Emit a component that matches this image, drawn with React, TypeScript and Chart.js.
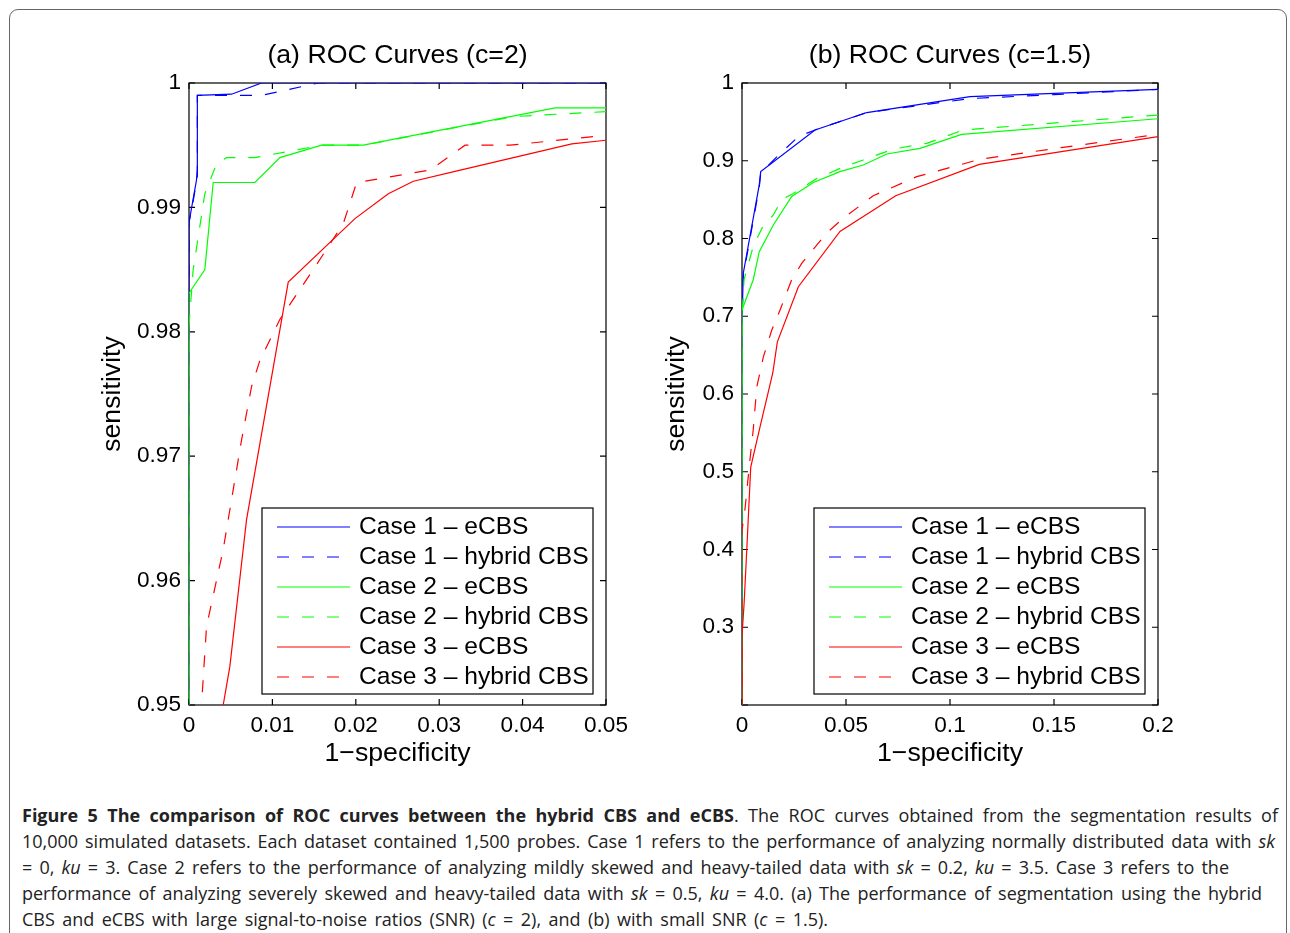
import React, { useEffect, useRef } from 'react';
import { Chart, registerables } from 'chart.js';

Chart.register(...registerables);

type Pt = [number, number];

// ---------- data ----------
const legendLabels = [
  'Case 1 – eCBS',
  'Case 1 – hybrid CBS',
  'Case 2 – eCBS',
  'Case 2 – hybrid CBS',
  'Case 3 – eCBS',
  'Case 3 – hybrid CBS',
];
const seriesColors = ['#0000ff', '#0000ff', '#00ff00', '#00ff00', '#ff0000', '#ff0000'];
const seriesDashed = [false, true, false, true, false, true];

// (a) c = 2
const aCase1eCBS: Pt[] = [[0, 0.9], [0, 0.9888], [0.0009, 0.9922], [0.001, 0.9931], [0.001, 0.999], [0.0051, 0.9991], [0.0087, 1.0], [0.05, 1.0]];
const aCase1Hybrid: Pt[] = [[0, 0.9], [0, 0.9888], [0.0005, 0.9905], [0.001, 0.9925], [0.001, 0.999], [0.0087, 0.999], [0.0155, 1.0], [0.05, 1.0]];
const aCase2eCBS: Pt[] = [[0, 0.9], [0, 0.9831], [0.0019, 0.985], [0.0029, 0.992], [0.0079, 0.992], [0.0109, 0.994], [0.0159, 0.995], [0.0209, 0.995], [0.0439, 0.998], [0.05, 0.998]];
const aCase2Hybrid: Pt[] = [[0, 0.9], [0, 0.9805], [0.0005, 0.985], [0.0019, 0.9911], [0.0033, 0.9935], [0.0045, 0.994], [0.0079, 0.994], [0.0159, 0.995], [0.0209, 0.995], [0.0389, 0.9973], [0.05, 0.9977]];
const aCase3eCBS: Pt[] = [[0.0033, 0.947], [0.0041, 0.95], [0.0049, 0.9531], [0.0069, 0.9649], [0.0119, 0.984], [0.0199, 0.9891], [0.0239, 0.9911], [0.0269, 0.9921], [0.0319, 0.9929], [0.0459, 0.9951], [0.05, 0.9954]];
const aCase3Hybrid: Pt[] = [[0.0012, 0.945], [0.0015, 0.95], [0.0021, 0.9563], [0.0041, 0.9625], [0.0063, 0.9713], [0.0075, 0.9756], [0.0085, 0.9777], [0.0109, 0.981], [0.0149, 0.985], [0.0185, 0.9887], [0.0201, 0.992], [0.0289, 0.993], [0.0331, 0.995], [0.0385, 0.995], [0.05, 0.9958]];

// (b) c = 1.5
const bCase1eCBS: Pt[] = [[0, 0], [0, 0.691], [0.0006, 0.755], [0.0083, 0.869], [0.009, 0.886], [0.0351, 0.9396], [0.06, 0.962], [0.1096, 0.9824], [0.2, 0.9919]];
const bCase1Hybrid: Pt[] = [[0, 0], [0, 0.69], [0.0006, 0.752], [0.0083, 0.866], [0.009, 0.884], [0.0167, 0.905], [0.0271, 0.931], [0.0351, 0.9396], [0.06, 0.962], [0.1096, 0.98], [0.15, 0.985], [0.2, 0.9917]];
const bCase2eCBS: Pt[] = [[0, 0], [0, 0.708], [0.0054, 0.747], [0.0083, 0.783], [0.015, 0.817], [0.0239, 0.854], [0.0343, 0.872], [0.0471, 0.886], [0.0583, 0.8945], [0.0696, 0.9087], [0.0856, 0.916], [0.1056, 0.934], [0.2, 0.954]];
const bCase2Hybrid: Pt[] = [[0, 0], [0, 0.7], [0.001, 0.747], [0.0054, 0.79], [0.0103, 0.817], [0.015, 0.83], [0.0191, 0.85], [0.0247, 0.858], [0.0359, 0.877], [0.0487, 0.892], [0.0583, 0.901], [0.0727, 0.915], [0.0888, 0.9224], [0.1064, 0.9396], [0.2, 0.9588]];
const bCase3eCBS: Pt[] = [[0, 0], [0, 0.29], [0.001, 0.33], [0.0023, 0.4], [0.0042, 0.506], [0.0087, 0.558], [0.0148, 0.627], [0.017, 0.667], [0.0271, 0.738], [0.0471, 0.809], [0.0739, 0.855], [0.1141, 0.8954], [0.2, 0.931]];
const bCase3Hybrid: Pt[] = [[0, 0], [0, 0.425], [0.0014, 0.451], [0.0038, 0.515], [0.0054, 0.554], [0.0071, 0.609], [0.0103, 0.648], [0.0143, 0.682], [0.0183, 0.708], [0.0239, 0.747], [0.0287, 0.768], [0.0407, 0.807], [0.0487, 0.826], [0.0631, 0.855], [0.084, 0.8795], [0.1144, 0.9019], [0.1545, 0.9173], [0.2, 0.934]];

const aTicksX = [0, 0.01, 0.02, 0.03, 0.04, 0.05];
const aTickLabelsX = ['0', '0.01', '0.02', '0.03', '0.04', '0.05'];
const aTicksY = [0.95, 0.96, 0.97, 0.98, 0.99, 1];
const aTickLabelsY = ['0.95', '0.96', '0.97', '0.98', '0.99', '1'];

const bTicksX = [0, 0.05, 0.1, 0.15, 0.2];
const bTickLabelsX = ['0', '0.05', '0.1', '0.15', '0.2'];
const bTicksY = [0.2, 0.3, 0.4, 0.5, 0.6, 0.7, 0.8, 0.9, 1];
const bTickLabelsY = ['', '0.3', '0.4', '0.5', '0.6', '0.7', '0.8', '0.9', '1'];

type Seg = [string, '' | 'b' | 'i'];
const captionLines: Seg[][] = [
  [['Figure 5 The comparison of ROC curves between the hybrid CBS and eCBS', 'b'], ['. The ROC curves obtained from the segmentation results of', '']],
  [['10,000 simulated datasets. Each dataset contained 1,500 probes. Case 1 refers to the performance of analyzing normally distributed data with ', ''], ['sk', 'i']],
  [['= 0, ', ''], ['ku', 'i'], [' = 3. Case 2 refers to the performance of analyzing mildly skewed and heavy-tailed data with ', ''], ['sk', 'i'], [' = 0.2, ', ''], ['ku', 'i'], [' = 3.5. Case 3 refers to the', '']],
  [['performance of analyzing severely skewed and heavy-tailed data with ', ''], ['sk', 'i'], [' = 0.5, ', ''], ['ku', 'i'], [' = 4.0. (a) The performance of segmentation using the hybrid', '']],
  [['CBS and eCBS with large signal-to-noise ratios (SNR) (', ''], ['c', 'i'], [' = 2), and (b) with small SNR (', ''], ['c', 'i'], [' = 1.5).', '']],
];
const captionLineEnds = [1278, 1275, 1229, 1262, 828];

// ---------- styling ----------
const FONT = '"Liberation Sans", Arial, Helvetica, sans-serif';
const DASH = [12, 13];
const TITLE_SIZE = 26.7;
const TICK_SIZE = 22.6;
const LEGEND_SIZE = 24.6;

const boxPlugin = {
  id: 'matlabBox',
  beforeDatasetsDraw(chart: any) {
    const { ctx, chartArea } = chart;
    const { left, top, right, bottom } = chartArea;
    const xs = chart.scales.x;
    const ys = chart.scales.y;
    const tl = 6;
    ctx.save();
    ctx.strokeStyle = '#000';
    ctx.lineWidth = 1.2;
    ctx.setLineDash([]);
    ctx.strokeRect(left, top, right - left, bottom - top);
    ctx.beginPath();
    xs.ticks.forEach((t: any) => {
      const px = xs.getPixelForValue(t.value);
      ctx.moveTo(px, bottom);
      ctx.lineTo(px, bottom - tl);
      ctx.moveTo(px, top);
      ctx.lineTo(px, top + tl);
    });
    ys.ticks.forEach((t: any) => {
      const py = ys.getPixelForValue(t.value);
      ctx.moveTo(left, py);
      ctx.lineTo(left + tl, py);
      ctx.moveTo(right, py);
      ctx.lineTo(right - tl, py);
    });
    ctx.stroke();
    ctx.restore();
  },
};

const legendPlugin = {
  id: 'insideLegend',
  afterDatasetsDraw(chart: any) {
    const { ctx, chartArea } = chart;
    const w = 331;
    const h = 186;
    const bx = chartArea.right - 13 - w;
    const by = chartArea.bottom - 11 - h;
    ctx.save();
    ctx.fillStyle = '#fff';
    ctx.fillRect(bx, by, w, h);
    ctx.strokeStyle = '#000';
    ctx.lineWidth = 1.2;
    ctx.setLineDash([]);
    ctx.strokeRect(bx, by, w, h);
    chart.data.datasets.forEach((ds: any, i: number) => {
      const cy = by + 19 + i * 30;
      ctx.beginPath();
      ctx.strokeStyle = ds.borderColor;
      ctx.lineWidth = 1.2;
      ctx.setLineDash(ds.borderDash || []);
      ctx.moveTo(bx + 15, cy);
      ctx.lineTo(bx + 88, cy);
      ctx.stroke();
      ctx.setLineDash([]);
      ctx.fillStyle = '#000';
      ctx.font = `${LEGEND_SIZE}px ${FONT}`;
      ctx.textBaseline = 'middle';
      ctx.textAlign = 'left';
      ctx.fillText(ds.label, bx + 97, cy);
    });
    ctx.restore();
  },
};

interface PanelCfg {
  title: string;
  series: Pt[][];
  xMin: number; xMax: number; yMin: number; yMax: number;
  xTicks: number[]; xLabels: string[];
  yTicks: number[]; yLabels: string[];
  yAxisWidth: number;
  yTitlePad: number;
}

function makeConfig(p: PanelCfg): any {
  return {
    type: 'scatter',
    data: {
      datasets: p.series.map((s, i) => ({
        label: legendLabels[i],
        data: s.map(([x, y]) => ({ x, y })),
        showLine: true,
        borderColor: seriesColors[i],
        backgroundColor: seriesColors[i],
        borderWidth: 1.2,
        borderDash: seriesDashed[i] ? DASH : [],
        pointRadius: 0,
        pointHoverRadius: 0,
        tension: 0,
        order: 6 - i,
      })),
    },
    options: {
      animation: false,
      responsive: false,
      maintainAspectRatio: false,
      events: [],
      layout: { padding: { left: 0, top: 40, right: 40, bottom: 0 } },
      plugins: {
        legend: { display: false },
        tooltip: { enabled: false },
        title: {
          display: true,
          text: p.title,
          fullSize: false,
          color: '#000',
          font: { family: FONT, size: TITLE_SIZE, weight: 'normal' },
          padding: { top: 0, bottom: 10.96 },
        },
      },
      scales: {
        x: {
          type: 'linear',
          min: p.xMin,
          max: p.xMax,
          afterBuildTicks: (sc: any) => { sc.ticks = p.xTicks.map((v) => ({ value: v })); },
          afterFit: (sc: any) => { sc.height = 75; },
          grid: { display: false, drawTicks: false },
          border: { display: false },
          ticks: {
            color: '#000',
            font: { family: FONT, size: TICK_SIZE },
            padding: 7.6,
            maxRotation: 0,
            autoSkip: false,
            callback: (_v: any, i: number) => p.xLabels[i],
          },
          title: {
            display: true,
            text: '1−specificity',
            color: '#000',
            font: { family: FONT, size: TITLE_SIZE },
            padding: { top: 0, bottom: 9.98 },
          },
        },
        y: {
          type: 'linear',
          min: p.yMin,
          max: p.yMax,
          afterBuildTicks: (sc: any) => { sc.ticks = p.yTicks.map((v) => ({ value: v })); },
          afterFit: (sc: any) => { sc.width = p.yAxisWidth; },
          grid: { display: false, drawTicks: false },
          border: { display: false },
          ticks: {
            color: '#000',
            font: { family: FONT, size: TICK_SIZE },
            padding: 8,
            autoSkip: false,
            callback: (_v: any, i: number) => p.yLabels[i],
          },
          title: {
            display: true,
            text: 'sensitivity',
            color: '#000',
            font: { family: FONT, size: TITLE_SIZE },
            padding: { top: p.yTitlePad, bottom: 0 },
          },
        },
      },
    },
    plugins: [boxPlugin, legendPlugin],
  };
}

function Panel(props: { cfg: PanelCfg; left: number; width: number }) {
  const ref = useRef<HTMLCanvasElement | null>(null);
  useEffect(() => {
    if (!ref.current) return;
    const chart = new Chart(ref.current, makeConfig(props.cfg));
    return () => chart.destroy();
  }, []);
  return (
    <canvas
      ref={ref}
      width={props.width}
      height={780}
      style={{ position: 'absolute', left: props.left, top: 0, width: props.width, height: 780 }}
    />
  );
}

function Caption() {
  const refs = useRef<(HTMLSpanElement | null)[]>([]);
  useEffect(() => {
    const fit = () => {
      refs.current.forEach((el, i) => {
        if (!el) return;
        el.style.wordSpacing = '0px';
        const w = el.getBoundingClientRect().width;
        const target = captionLineEnds[i] - 22;
        const spaces = (el.textContent || '').split(' ').length - 1;
        if (spaces > 0) el.style.wordSpacing = `${(target - w) / spaces}px`;
      });
    };
    fit();
    if ((document as any).fonts && (document as any).fonts.ready) {
      (document as any).fonts.ready.then(fit);
    }
  }, []);
  return (
    <>
      {captionLines.map((line, i) => (
        <div
          key={i}
          style={{
            position: 'absolute',
            left: 22,
            top: 802 + i * 26,
            height: 26,
            lineHeight: '26px',
            whiteSpace: 'nowrap',
            fontFamily: '"Open Sans", "Noto Sans", sans-serif',
            fontSize: 18,
            color: '#222',
          }}
        >
          <span ref={(el) => { refs.current[i] = el; }} style={{ display: 'inline-block' }}>
            {line.map(([t, s], j) => (
              <span
                key={j}
                style={{ fontWeight: s === 'b' ? 700 : 400, fontStyle: s === 'i' ? 'italic' : 'normal' }}
              >
                {t}
              </span>
            ))}
          </span>
        </div>
      ))}
    </>
  );
}

const panelA: PanelCfg = {
  title: '(a) ROC Curves (c=2)',
  series: [aCase1eCBS, aCase1Hybrid, aCase2eCBS, aCase2Hybrid, aCase3eCBS, aCase3Hybrid],
  xMin: 0, xMax: 0.05, yMin: 0.95, yMax: 1,
  xTicks: aTicksX, xLabels: aTickLabelsX,
  yTicks: aTicksY, yLabels: aTickLabelsY,
  yAxisWidth: 189,
  yTitlePad: 96.98,
};

const panelB: PanelCfg = {
  title: '(b) ROC Curves (c=1.5)',
  series: [bCase1eCBS, bCase1Hybrid, bCase2eCBS, bCase2Hybrid, bCase3eCBS, bCase3Hybrid],
  xMin: 0, xMax: 0.2, yMin: 0.2, yMax: 1,
  xTicks: bTicksX, xLabels: bTickLabelsX,
  yTicks: bTicksY, yLabels: bTickLabelsY,
  yAxisWidth: 96,
  yTitlePad: 14.98,
};

export default function App() {
  return (
    <div style={{ position: 'absolute', left: 0, top: 0, width: 1290, height: 933, overflow: 'hidden', background: '#fff' }}>
      <div
        style={{
          position: 'absolute',
          left: 9,
          top: 9,
          width: 1278,
          height: 1000,
          border: '1.5px solid #666',
          borderRadius: 9,
          boxSizing: 'border-box',
        }}
      />
      <Panel cfg={panelA} left={0} width={646} />
      <Panel cfg={panelB} left={646} width={552} />
      <Caption />
    </div>
  );
}
